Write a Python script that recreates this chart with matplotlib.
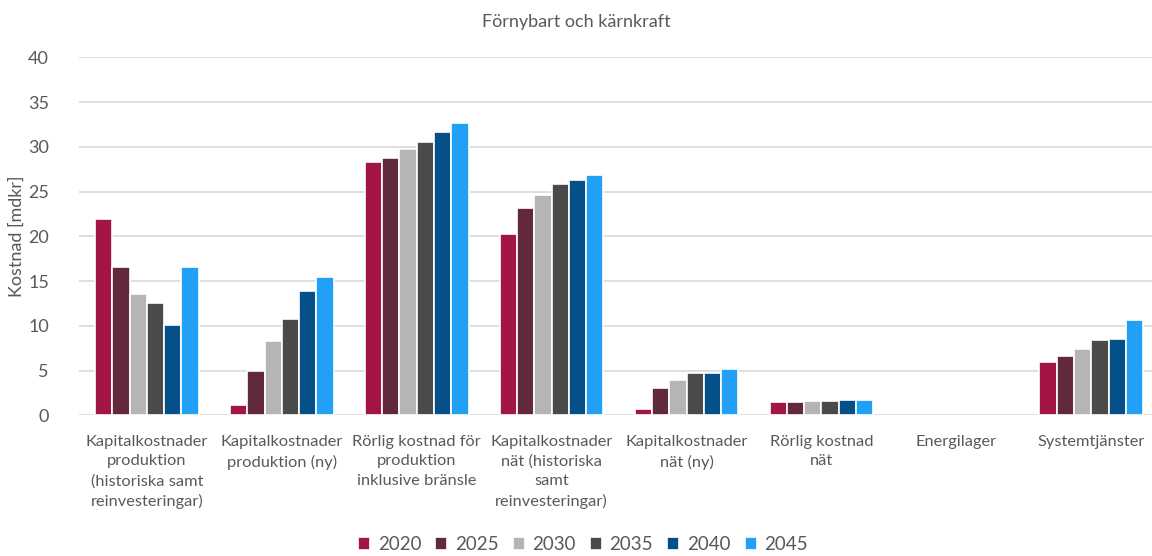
import matplotlib.pyplot as plt
import numpy as np

plt.rcParams["font.family"] = ["Lato", "DejaVu Sans"]

# Categories and values (mdkr) per year
categories = [
    "Kapitalkostnader\nproduktion\n(historiska samt\nreinvesteringar)",
    "Kapitalkostnader\nproduktion (ny)",
    "Rörlig kostnad för\nproduktion\ninklusive bränsle",
    "Kapitalkostnader\nnät (historiska\nsamt\nreinvesteringar)",
    "Kapitalkostnader\nnät (ny)",
    "Rörlig kostnad\nnät",
    "Energilager",
    "Systemtjänster",
]
years = ["2020", "2025", "2030", "2035", "2040", "2045"]
v2020 = [21.9, 1.1, 28.3, 20.3, 0.7, 1.45, 0, 6.0]
v2025 = [16.6, 4.9, 28.8, 23.2, 3.0, 1.5, 0, 6.6]
v2030 = [13.5, 8.3, 29.8, 24.6, 3.9, 1.6, 0, 7.4]
v2035 = [12.5, 10.8, 30.5, 25.8, 4.7, 1.6, 0, 8.4]
v2040 = [10.1, 13.9, 31.7, 26.3, 4.7, 1.7, 0, 8.55]
v2045 = [16.6, 15.5, 32.7, 26.9, 5.2, 1.7, 0, 10.6]
series = [v2020, v2025, v2030, v2035, v2040, v2045]
colors = ["#A31545", "#62283B", "#B5B5B5", "#4A4A4A", "#06508A", "#22A0F5"]

fig = plt.figure(figsize=(11.52, 5.56), dpi=100)
ax = fig.add_axes([0.069, 0.253, 0.931, 0.644])

x = np.arange(len(categories))
step = 0.128
for i, (vals, col, yr) in enumerate(zip(series, colors, years)):
    lw = [1.2 if v > 0 else 0 for v in vals]
    ax.bar(x + (i - 2.5) * step, vals, width=step, color=col,
           edgecolor="white", linewidth=lw, label=yr, zorder=3)

ax.set_ylim(0, 40)
ax.set_xlim(-0.5, 7.45)
ax.set_yticks(range(0, 41, 5))
ax.yaxis.grid(True, color="#D9D9D9", linewidth=1.2, zorder=0)
ax.tick_params(axis="y", length=0, labelsize=13, labelcolor="#595959", pad=22)
ax.set_xticks(x)
ax.set_xticklabels(categories, fontsize=11.8, color="#595959", linespacing=1.5)
ax.tick_params(axis="x", length=0, pad=14)
for s in ax.spines.values():
    s.set_visible(False)
ax.set_ylabel("Kostnad [mdkr]", fontsize=13, color="#595959", labelpad=2)

fig.suptitle("Förnybart och kärnkraft", y=0.975, fontsize=13, color="#595959")

fig.legend(loc="lower center", bbox_to_anchor=(0.506, -0.025), ncol=6,
           frameon=False, fontsize=13.5, labelcolor="#595959",
           handlelength=0.65, handleheight=0.65, handletextpad=0.4,
           columnspacing=0.75)

fig.savefig("out.png", dpi=100)
